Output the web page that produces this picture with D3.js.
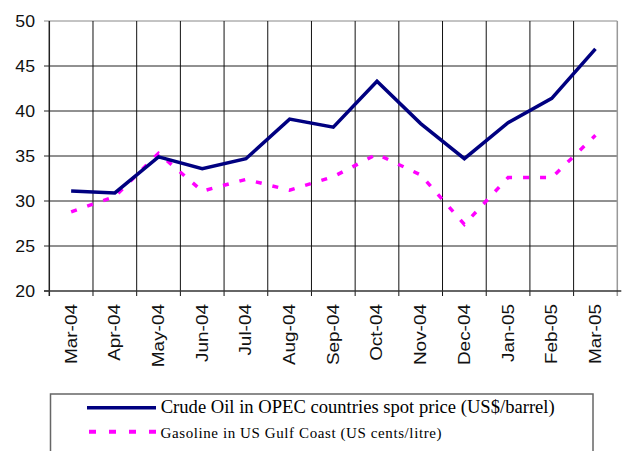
<!DOCTYPE html>
<html><head><meta charset="utf-8">
<script src="https://cdn.jsdelivr.net/npm/d3@7"></script>
<style>html,body{margin:0;padding:0;background:#fff;}svg{display:block;}</style>
</head><body>
<script>
const months = ["Mar-04","Apr-04","May-04","Jun-04","Jul-04","Aug-04","Sep-04","Oct-04","Nov-04","Dec-04","Jan-05","Feb-05","Mar-05"];
const crude = [31.1,30.9,34.9,33.6,34.7,39.1,38.2,43.3,38.6,34.7,38.7,41.4,46.9];
const gasoline = [28.8,30.5,35.3,31.1,32.4,31.2,32.7,35.2,32.9,27.4,32.6,32.6,37.3];
const yTicks = [20,25,30,35,40,45,50];
const seriesNames = ["Crude Oil in OPEC countries spot price (US$/barrel)","Gasoline in US Gulf Coast (US cents/litre)"];

const W=627,H=451;
const svg=d3.select("body").append("svg").attr("width",W).attr("height",H);
const L=49.3,R=617.3,T=21,B=291;
const x=d3.scaleBand().domain(months).range([L,R]).padding(0);
const y=d3.scaleLinear().domain([20,50]).range([B,T]);
const cx=d=>x(d)+x.bandwidth()/2;

// horizontal gridlines
svg.append("g").selectAll("line").data(yTicks.filter(v=>v>20)).join("line")
  .attr("x1",44).attr("x2",R).attr("y1",d=>y(d)).attr("y2",d=>y(d))
  .attr("stroke",d=>d===50?"#888":"#222").attr("stroke-width",1);
// vertical gridlines
const bounds=months.map(m=>x(m)).slice(1);
svg.append("g").selectAll("line").data(bounds).join("line")
  .attr("x1",d=>d).attr("x2",d=>d).attr("y1",T).attr("y2",B+5)
  .attr("stroke","#111").attr("stroke-width",1);
// right border
svg.append("line").attr("x1",R).attr("x2",R).attr("y1",T).attr("y2",B+5).attr("stroke","#999").attr("stroke-width",1.5);
// left axis
svg.append("line").attr("x1",L).attr("x2",L).attr("y1",T).attr("y2",B+5).attr("stroke","#222").attr("stroke-width",1.5);
// bottom axis
svg.append("line").attr("x1",44).attr("x2",R+4).attr("y1",B).attr("y2",B).attr("stroke","#333").attr("stroke-width",1.5);
svg.append("line").attr("x1",44).attr("x2",L).attr("y1",B).attr("y2",B).attr("stroke","#333");

// y labels
svg.append("g").selectAll("text").data(yTicks).join("text")
  .attr("transform",d=>`translate(35,${y(d)+5.7}) scale(1.12,1)`)
  .attr("text-anchor","end")
  .attr("font-family","Liberation Sans, Arial, sans-serif").attr("font-size",15.8).attr("fill","#111")
  .text(d=>d);

// x labels
svg.append("g").selectAll("text").data(months).join("text")
  .attr("transform",d=>`translate(${cx(d)+5.5},304) rotate(-90) scale(1.2,1)`)
  .attr("text-anchor","end")
  .attr("font-family","Liberation Sans, Arial, sans-serif").attr("font-size",15.8).attr("fill","#111")
  .text(d=>d);

const line=d3.line().x((d,i)=>cx(months[i])).y(d=>y(d));
svg.append("path").datum(gasoline).attr("d",line).attr("fill","none")
  .attr("stroke","#ff00ff").attr("stroke-width",3.5).attr("stroke-dasharray","6,11");
svg.append("path").datum(crude).attr("d",line).attr("fill","none")
  .attr("stroke","#000080").attr("stroke-width",3.5).attr("stroke-linejoin","miter");

// legend
svg.append("rect").attr("x",50.5).attr("y",394).attr("width",542.5).attr("height",70)
  .attr("fill","#fff").attr("stroke","#666").attr("stroke-width",1.5);
svg.append("line").attr("x1",87).attr("x2",156).attr("y1",407.7).attr("y2",407.7)
  .attr("stroke","#000080").attr("stroke-width",3.5);
svg.append("line").attr("x1",89).attr("x2",157).attr("y1",431.7).attr("y2",431.7)
  .attr("stroke","#ff00ff").attr("stroke-width",4).attr("stroke-dasharray","7,13");
svg.append("text").attr("x",160.7).attr("y",413.3)
  .attr("font-family","Liberation Serif, Times New Roman, serif").attr("font-size",18.6).attr("fill","#000")
  .text(seriesNames[0]);
svg.append("text").attr("x",160.5).attr("y",437.5)
  .attr("font-family","Liberation Serif, Times New Roman, serif").attr("font-size",15).attr("fill","#000")
  .attr("textLength",281).attr("lengthAdjust","spacing")
  .text(seriesNames[1]);
</script>
</body></html>
